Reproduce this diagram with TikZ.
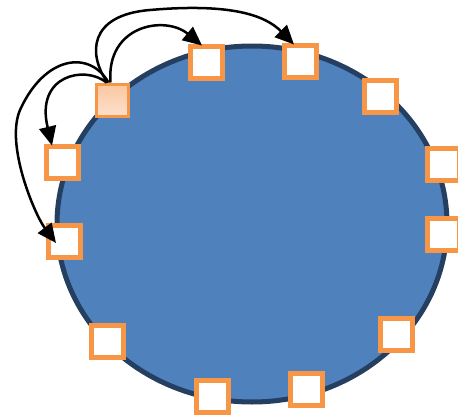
\documentclass[tikz,border=0pt]{standalone}
\usepackage{tikz}
\usetikzlibrary{arrows.meta, positioning, shapes.geometric}
\definecolor{ringBlue}{HTML}{4F81BD}
\definecolor{ringEdge}{HTML}{243F60}
\definecolor{slotOrange}{HTML}{F79646}
\definecolor{srcTop}{HTML}{FAC7A0}
\definecolor{srcBottom}{HTML}{FDE0CC}

\begin{document}
\begin{tikzpicture}[x=1pt, y=-1pt,
  ring/.style={draw=ringEdge, line width=5pt, fill=ringBlue},
  slot/.style={draw=slotOrange, line width=5pt, fill=white, minimum size=32pt, inner sep=0pt},
  srcBox/.style={draw=slotOrange, line width=3pt, top color=srcTop, bottom color=srcBottom, minimum size=32pt, inner sep=0pt},
  link/.style={-{Triangle[length=19pt, width=17pt]}, line width=2.5pt, black},
]
  \useasboundingbox (0,0) rectangle (458,415);

% ring
  \node[ring, ellipse, minimum width=390pt, minimum height=356pt, inner sep=0pt] (ring) at (252,224) {};

% slots around the ring
  \node[slot] (S1) at (206,62) {};
  \node[slot] (S2) at (300,61) {};
  \node[slot] (S3) at (380,96) {};
  \node[slot] (S4) at (443,164) {};
  \node[slot] (S5) at (443,234) {};
  \node[slot] (S6) at (396,334) {};
  \node[slot] (S7) at (306,389) {};
  \node[slot] (S8) at (212,396) {};
  \node[slot] (S9) at (107,341) {};
  \node[slot] (S10) at (62,162) {};
  \node[slot] (S11) at (64,241) {};

% source
  \node[srcBox] (src) at (112.5,100) {};

% links
  \coordinate (t1) at ([xshift=-4pt, yshift=-2pt]S1.north);
  \coordinate (t2) at ([xshift=-6pt, yshift=-2pt]S2.north);
  \coordinate (t10) at ([xshift=-10pt, yshift=-2pt]S10.north);
  \coordinate (t11) at ([xshift=-8pt, yshift=-2pt]S11.center);

  \draw[link] ([xshift=-2pt]src.north) .. controls (106,25) and (165,15) .. (t1);
  \draw[link] ([xshift=-5pt]src.north) .. controls (88,55) and (88,15) .. (150,10) .. controls (230,3) and (265,15) .. (t2);
  \draw[link] ([xshift=-6pt]src.north) .. controls (85,65) and (35,75) .. (t10);
  \draw[link] ([xshift=-4pt]src.north) .. controls (90,50) and (45,55) .. (20,110) .. controls (5,145) and (35,215) .. (t11);
\end{tikzpicture}
\end{document}
